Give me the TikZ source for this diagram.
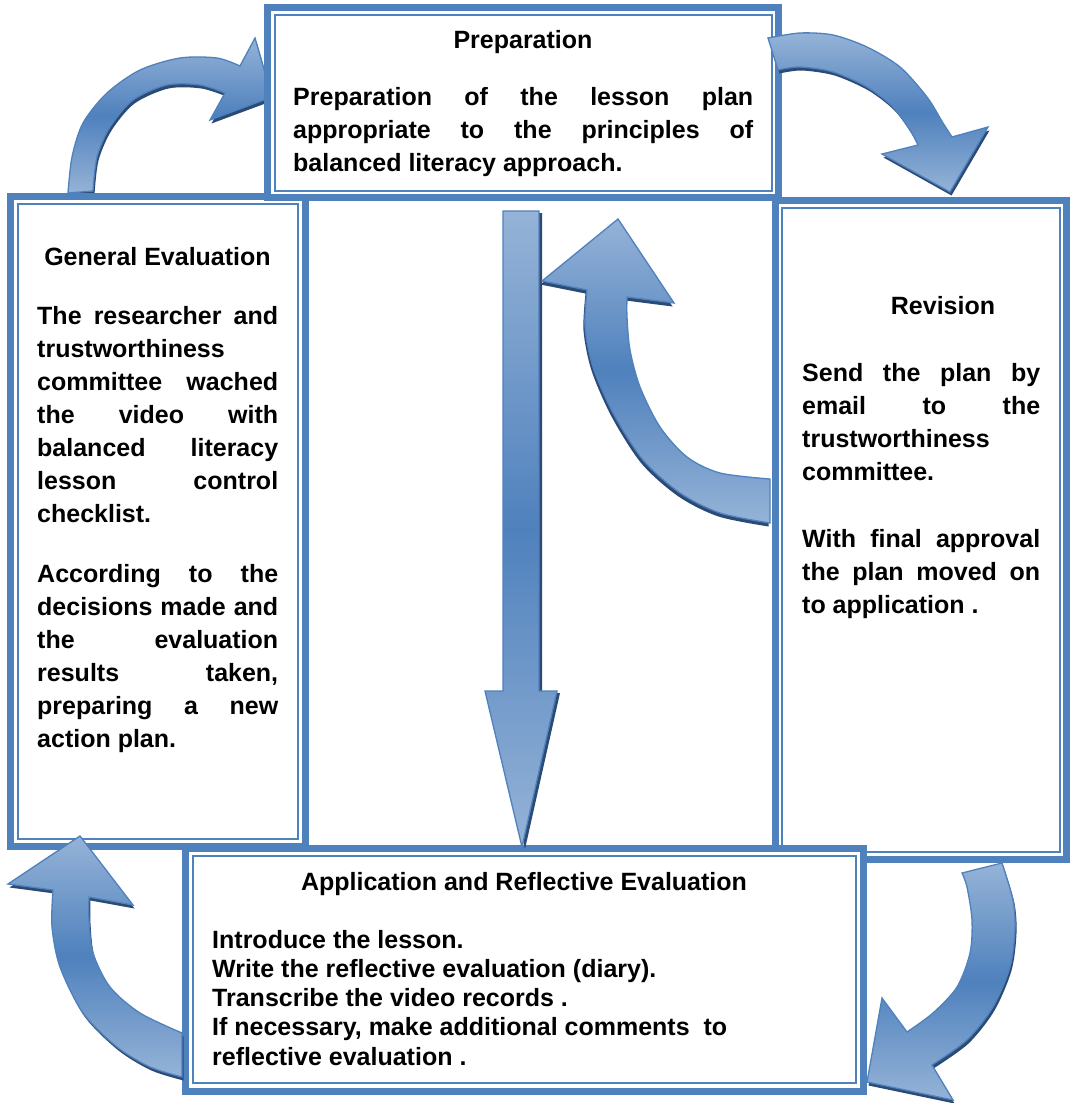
\documentclass[tikz,border=0pt]{standalone}
\usepackage{fontspec}
\setmainfont{Liberation Sans}
\definecolor{bb}{HTML}{4F81BD}
\definecolor{lb}{HTML}{95B3D7}
\definecolor{db}{HTML}{4F81BD}
\definecolor{sh}{HTML}{2B4A74}
\newcommand{\jl}[2]{\makebox[#1][s]{#2}}
\newcommand{\arrTL}{(68,193) -- plot[smooth] coordinates {(68,193) (72,157) (83,123) (107,93) (140,70) (180,58) (217,58) (240,66)} -- (255,38) -- (272,97) -- (210,120) -- (225,93) -- plot[smooth] coordinates {(225,93) (200,85) (167,85) (133,100) (110,127) (97,157) (93,191)} -- cycle}
\newcommand{\arrTR}{(768,38) -- plot[smooth] coordinates {(768,38) (800,33) (833,35) (867,47) (900,67) (927,97) (943,123) (952,137)} -- (988,127) -- (950,192) -- (882,154) -- (918,145) -- plot[smooth] coordinates {(918,145) (910,130) (893,107) (867,87) (833,72) (800,67) (778,70)} -- cycle}
\newcommand{\arrDN}{(503,211) -- (539,211) -- (539,691) -- (557,691) -- (522,847) -- (485,691) -- (503,691) -- cycle}
\newcommand{\arrUP}{(770,523) -- plot[smooth] coordinates {(770,523) (720,513) (680,493) (643,460) (613,413) (593,367) (585,327) (587,290)} -- (542,281) -- (618,219) -- (674,303) -- (627,297) -- plot[smooth] coordinates {(627,297) (627,317) (630,350) (640,387) (660,427) (687,457) (720,473) (770,479)} -- cycle}
\newcommand{\arrBL}{(182,1077) -- plot[smooth] coordinates {(182,1077) (150,1067) (117,1047) (83,1013) (60,967) (52,927) (53,890)} -- (8,884) -- (80,836) -- (133,905) -- (89,897) -- plot[smooth] coordinates {(89,897) (89,920) (93,953) (110,987) (140,1013) (182,1033)} -- cycle}
\newcommand{\arrBR}{(1002,863) -- plot[smooth] coordinates {(1002,863) (1013,900) (1015,930) (1010,967) (993,1007) (967,1040) (932,1065)} -- (953,1100) -- (867,1082) -- (882,998) -- (907,1032) -- plot[smooth] coordinates {(907,1032) (933,1013) (957,987) (970,953) (972,920) (967,887) (962,873)} -- cycle}
\begin{document}
\begin{tikzpicture}[x=1pt,y=-1pt,
  box/.style={draw=bb, line width=7pt, fill=white, inner sep=0pt, outer sep=0pt},
  inner/.style={draw=bb, line width=2pt},
  arrowbody/.style={draw=bb, line width=1.3pt, top color=lb, bottom color=lb, middle color=db},
  arrowshadow/.style={fill=sh, shift={(1.5,3.5)}},
  ttl/.style={anchor=base, inner sep=0pt, font=\fontsize{25}{33}\selectfont\bfseries},
  body/.style={anchor=base west, inner sep=0pt, align=left, font=\fontsize{25}{33}\selectfont\bfseries}]
\useasboundingbox (0,0) rectangle (1070,1103);
\fill[white] (0,0) rectangle (1070,1103);
% top-left arrow (behind the boxes)
\fill[arrowshadow] \arrTL;
\path[arrowbody] \arrTL;
% boxes
\node[box, minimum width=295pt, minimum height=650pt] (gen) at (157.5,521) {};
\draw[inner] ([shift={(7.5,7.5)}]gen.north west) rectangle ([shift={(-7.5,-7.5)}]gen.south east);
\node[box, minimum width=291pt, minimum height=659.5pt] (rev) at (920.5,529.75) {};
\draw[inner] ([shift={(7,8)}]rev.north west) rectangle ([shift={(-6.5,-8)}]rev.south east);
\node[box, minimum width=678.5pt, minimum height=243pt] (app) at (524.25,970) {};
\draw[inner] ([shift={(7.5,7.5)}]app.north west) rectangle ([shift={(-7.5,-8.5)}]app.south east);
\node[box, minimum width=511pt, minimum height=190pt] (prep) at (523,102) {};
\draw[inner] ([shift={(7.5,7.5)}]prep.north west) rectangle ([shift={(-7,-6.5)}]prep.south east);
% texts (body nodes are anchored at the baseline of their last line)
\node[ttl] (prept) at (523,48) {Preparation};
\node[body] (prepb) at (293,171) {\jl{460pt}{Preparation of the lesson plan}\\
\jl{460pt}{appropriate to the principles of}\\
balanced literacy approach.};
\node[ttl] (gent) at (157.5,265) {General Evaluation};
\node[body] (genb) at (37,747) {\jl{241pt}{The researcher and}\\
trustworthiness\\
\jl{241pt}{committee wached}\\
\jl{241pt}{the video with}\\
\jl{241pt}{balanced literacy}\\
\jl{241pt}{lesson control}\\
checklist.\\[27pt]
\jl{241pt}{According to the}\\
\jl{241pt}{decisions made and}\\
\jl{241pt}{the evaluation}\\
\jl{241pt}{results taken,}\\
\jl{241pt}{preparing a new}\\
action plan.};
\node[ttl] (revt) at (943,314) {Revision};
\node[body] (revb) at (802,613) {\jl{238pt}{Send the plan by}\\
\jl{238pt}{email to the}\\
trustworthiness\\
committee.\\[34pt]
\jl{238pt}{With final approval}\\
\jl{238pt}{the plan moved on}\\
to application .};
\node[ttl] (appt) at (524,890) {Application and Reflective Evaluation};
\node[body, font=\fontsize{25}{29.2}\selectfont\bfseries] (appb) at (212,1065) {Introduce the lesson.\\
Write the reflective evaluation (diary).\\
Transcribe the video records .\\
If necessary, make additional comments\ \ to\\
reflective evaluation .};
% arrows on top
\fill[arrowshadow] \arrTR;
\path[arrowbody] \arrTR;
\fill[arrowshadow, shift={(1.5,-1.5)}] \arrDN;
\path[arrowbody] \arrDN;
\fill[arrowshadow, shift={(-3,0)}] \arrUP;
\path[arrowbody] \arrUP;
\fill[arrowshadow] \arrBL;
\path[arrowbody] \arrBL;
\fill[arrowshadow] \arrBR;
\path[arrowbody] \arrBR;
\end{tikzpicture}
\end{document}
